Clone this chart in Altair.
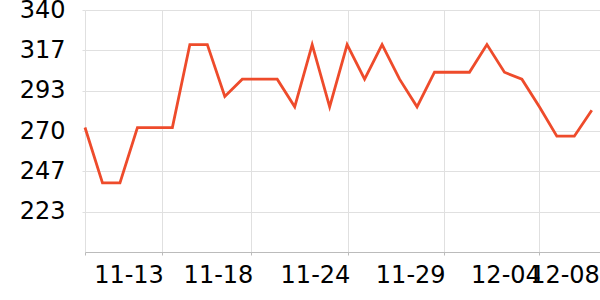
import altair as alt
import pandas as pd

# series values (one per point, evenly spaced along x)
values = [272, 240, 240, 272, 272, 272, 320, 320, 290, 300,
          300, 300, 284, 320, 284, 320, 300, 320, 300, 284,
          304, 304, 304, 320, 304, 300, 284, 267, 267, 282]
index = list(range(len(values)))

# x tick positions (in point-index units) and their labels
tick_pos = [0, 4.4, 9.52, 15.07, 20.52, 25.97, 29.35]
tick_labels = ["", "11-13", "11-18", "11-24", "11-29", "12-04", "12-08"]

# y ticks
y_ticks = [223.33, 246.67, 270, 293.33, 316.67, 340]

df = pd.DataFrame({"idx": index, "value": values})

pos_js = "[" + ",".join(repr(p) for p in tick_pos) + "]"
lab_js = "[" + ",".join("'" + l + "'" for l in tick_labels) + "]"
label_expr = f"{lab_js}[indexof({pos_js}, datum.value)]"

grid = "#e0e0e0"

chart = alt.Chart(df).mark_line(color="#ee4b2b", strokeWidth=2.8).encode(
    x=alt.X(
        "idx:Q",
        scale=alt.Scale(domain=[0, 29.47], nice=False, zero=False),
        axis=alt.Axis(
            values=tick_pos,
            labelExpr=label_expr,
            title=None,
            grid=True,
            gridColor=grid,
            gridOpacity={"condition": {"test": "datum.value > 29", "value": 0}, "value": 1},
            tickOpacity={"condition": {"test": "datum.value > 29", "value": 0}, "value": 1},
            domainColor="#bbbbbb",
            tickColor="#bbbbbb",
            tickSize=3,
            labelFont="DejaVu Sans",
            labelFontSize=24,
            labelColor="black",
            labelAlign="right",
            labelBaseline="top",
            labelPadding=8,
            labelOffset=1.5,
            labelOverlap=False,
            labelBound=False,
            labelFlush=False,
        ),
    ),
    y=alt.Y(
        "value:Q",
        scale=alt.Scale(domain=[200, 340], nice=False, zero=False),
        axis=alt.Axis(
            values=y_ticks,
            format=".0f",
            title=None,
            grid=True,
            gridColor=grid,
            domain=False,
            tickColor=grid,
            tickSize=3,
            labelFont="DejaVu Sans",
            labelFontSize=24,
            labelColor="black",
            labelPadding=17,
            labelOverlap=False,
            labelBound=False,
            labelFlush=False,
        ),
    ),
).properties(
    width=515,
    height=242,
    padding={"left": 85, "top": 10, "right": 0, "bottom": 48},
    autosize="none",
).configure_view(stroke=None)

chart.save("out.html", embed_options={"renderer": "svg", "actions": False})
